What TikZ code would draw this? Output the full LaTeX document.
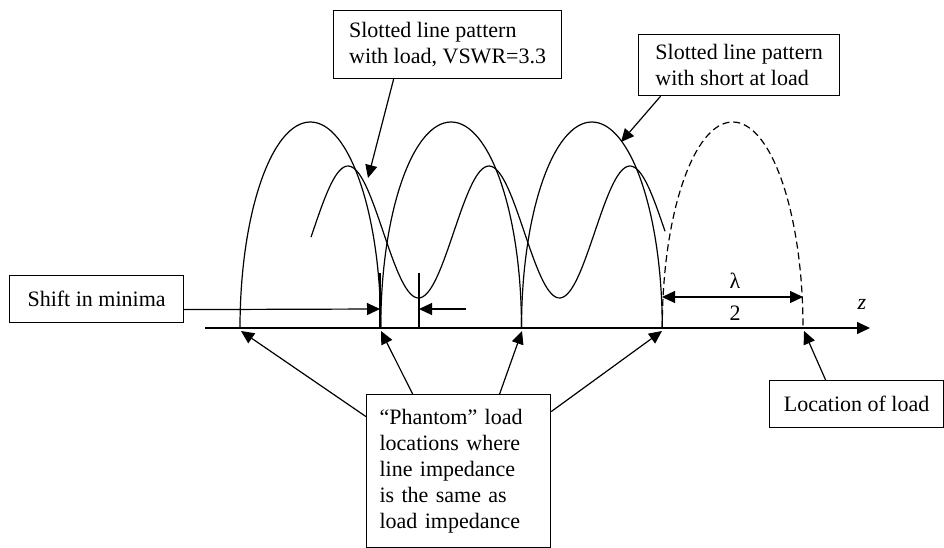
\documentclass[tikz,border=0pt]{standalone}
\usepackage{fontspec}
\setmainfont{Liberation Serif}
\usetikzlibrary{arrows.meta}
\begin{document}
\begin{tikzpicture}[x=1pt,y=-1pt, line width=1.2pt,
  tip/.style={-{Triangle[length=13pt,width=12pt]}},
  dtip/.style={{Triangle[length=13pt,width=12pt]}-{Triangle[length=13pt,width=12pt]}},
  lbox/.style={draw, rectangle, anchor=north west, inner xsep=13pt, inner ysep=0pt,
    align=left, font=\fontsize{22}{26}\selectfont},
  lbl/.style={inner sep=0pt, font=\fontsize{22}{26}\selectfont},
  ldash/.style={dash pattern=on 7pt off 4pt}]
\useasboundingbox (0,0) rectangle (944,548);

% axis
\coordinate (ax0) at (205,328);
\coordinate (ax1) at (870,328);
\draw[tip] (ax0) -- (ax1);
\node[lbl, font=\fontsize{22}{26}\selectfont\itshape] (zlab) at (862,304) {z};

% zeros of short-circuit pattern
\coordinate (m0) at (240,328);
\coordinate (m1) at (380.75,328);
\coordinate (m2) at (521.5,328);
\coordinate (m3) at (662.25,328);

% short-circuit pattern
\draw (m0) arc[start angle=180,end angle=0,x radius=70.375pt,y radius=206pt];
\draw (m1) arc[start angle=180,end angle=0,x radius=70.375pt,y radius=206pt];
\draw (m2) arc[start angle=180,end angle=0,x radius=70.375pt,y radius=206pt];
\draw[ldash] (m3) arc[start angle=180,end angle=0,x radius=70.375pt,y radius=206pt];

% load pattern
\draw plot[domain=311:665, samples=150, smooth] (\x, {232-66*cos(2.5532*(\x-348))});

% minima ticks
\coordinate (k0t) at (380,273);
\coordinate (k0b) at (380,328);
\coordinate (k1t) at (419,273);
\coordinate (k1b) at (419,328);
\draw (k0t) -- (k0b);
\draw (k1t) -- (k1b);

% boxes
\node[lbox, minimum width=228pt, minimum height=68pt] (topL) at (333,10)
  {Slotted line pattern\\with load, VSWR=3.3};
\node[lbox, minimum width=201pt, minimum height=61pt] (topR) at (638,34)
  {Slotted line pattern\\with short at load};
\node[lbox, minimum width=174pt, minimum height=47pt] (shift) at (9,275)
  {Shift in minima};
\node[lbox, minimum width=174pt, minimum height=47pt] (loc) at (769,380)
  {Location of load};
\node[lbox, minimum width=184pt, minimum height=153pt, text width=158pt] (ph) at (366,394)
  {“Phantom” load\\locations where\\line impedance\\is the same as\\load impedance\\[14pt]};

% arrows from top boxes
\coordinate (aL) at (368,178);
\coordinate (aR) at (621,142);
\draw[tip] ([xshift=-54pt]topL.south) -- (aL);
\draw[tip] ([xshift=-78.5pt]topR.south) -- (aR);

% shift in minima arrows
\coordinate (s1) at (380,309);
\coordinate (s2) at (419,309);
\coordinate (s3) at (466,309);
\draw[tip] ([yshift=-10.5pt]shift.east) -- (s1);
\draw[tip] (s3) -- (s2);

% lambda/2
\coordinate (h0) at (662,297);
\coordinate (h1) at (803,297);
\draw[dtip] (h0) -- (h1);
\node[lbl] (lam) at (735,281) {λ};
\node[lbl] (two) at (735,313) {2};

% phantom arrows
\coordinate (t0) at (241,331);
\coordinate (t1) at (381,331);
\coordinate (t2) at (522,331);
\coordinate (t3) at (662,331);
\coordinate (t4) at (804,331);
\draw[tip] ([yshift=54.5pt]ph.west) -- (t0);
\draw[tip] ([xshift=-46pt]ph.north) -- (t1);
\draw[tip] ([xshift=41pt]ph.north) -- (t2);
\draw[tip] ([yshift=59.5pt]ph.east) -- (t3);

% location of load arrow
\draw[tip] ([xshift=-31pt]loc.north) -- (t4);
\end{tikzpicture}
\end{document}
